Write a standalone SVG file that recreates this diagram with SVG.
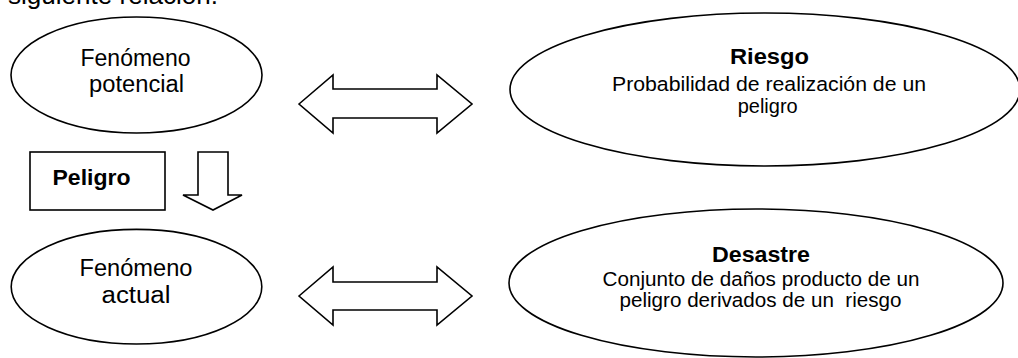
<svg xmlns="http://www.w3.org/2000/svg" width="1018" height="358" viewBox="0 0 1018 358">
<style>
.shape{fill:#fff;stroke:#000;stroke-width:1.6}
.blk{fill:#fff;stroke:#000;stroke-width:1.6;stroke-linejoin:miter}
text{font-family:"Liberation Sans",Arial,sans-serif;fill:#000;text-anchor:middle}
.lbl{font-size:23px}
.b{font-size:22px;font-weight:bold}
.d{font-size:20.5px}
</style>
<rect width="1018" height="358" fill="#fff"/>
<text x="8" y="4" style="font-size:26px;text-anchor:start" textLength="210" lengthAdjust="spacingAndGlyphs">siguiente relación.</text>

<g id="connectors">
<polygon class="blk" points="299,104 333,75 333,89 437,89 437,75 472,104 437,133 437,118 333,118 333,133"/>
<polygon class="blk" points="299,296 333,267 333,282 437,282 437,267 472,296 437,325 437,310 333,310 333,325"/>
<polygon class="blk" points="198,152 228,152 228,195 242,195 213,210 183,195 198,195"/>
</g>

<g id="fenomeno-potencial">
<ellipse class="shape" cx="136.5" cy="75" rx="125.5" ry="58"/>
<text class="lbl" x="135.5" y="66" textLength="110" lengthAdjust="spacingAndGlyphs">Fenómeno</text>
<text class="lbl" x="136.5" y="92" textLength="95" lengthAdjust="spacingAndGlyphs">potencial</text>
</g>

<g id="peligro">
<rect class="shape" x="30" y="152" width="135" height="58"/>
<text class="b" x="91.5" y="184.5" textLength="78" lengthAdjust="spacingAndGlyphs">Peligro</text>
</g>

<g id="fenomeno-actual">
<ellipse class="shape" cx="136.5" cy="286.7" rx="125.3" ry="57.3"/>
<text class="lbl" x="136" y="276" textLength="113" lengthAdjust="spacingAndGlyphs">Fenómeno</text>
<text class="lbl" x="136" y="302.5" textLength="69" lengthAdjust="spacingAndGlyphs">actual</text>
</g>

<g id="riesgo">
<ellipse class="shape" cx="765" cy="89.5" rx="255" ry="76.5"/>
<text class="b" x="769.5" y="64" textLength="79" lengthAdjust="spacingAndGlyphs">Riesgo</text>
<text class="d" x="769" y="90.5" textLength="314" lengthAdjust="spacingAndGlyphs">Probabilidad de realización de un</text>
<text class="d" x="767.7" y="113" textLength="60" lengthAdjust="spacingAndGlyphs">peligro</text>
</g>

<g id="desastre">
<ellipse class="shape" cx="756" cy="283" rx="247" ry="74"/>
<text class="b" x="761" y="261.5" textLength="98" lengthAdjust="spacingAndGlyphs">Desastre</text>
<text class="d" x="761" y="286" textLength="317" lengthAdjust="spacingAndGlyphs">Conjunto de daños producto de un</text>
<text class="d" x="760.5" y="307" textLength="282" lengthAdjust="spacingAndGlyphs" xml:space="preserve">peligro derivados de un  riesgo</text>
</g>
</svg>
